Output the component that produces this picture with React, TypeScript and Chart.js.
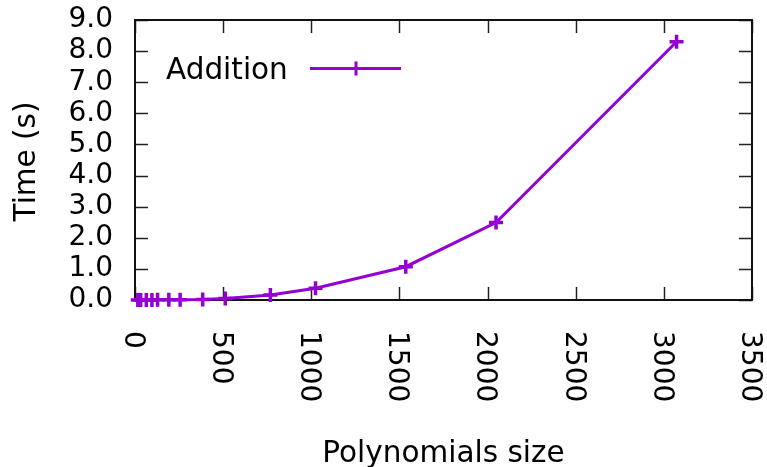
import React, { useEffect, useRef } from "react";
import { Chart, registerables } from "chart.js";

Chart.register(...registerables);

const sizes = [16, 32, 64, 96, 128, 192, 256, 384, 512, 768, 1024, 1536, 2048, 3072];
const additionTimes = [0.001, 0.002, 0.003, 0.004, 0.005, 0.008, 0.011, 0.02, 0.05, 0.16, 0.38, 1.07, 2.49, 8.3];
const xTicks = [0, 500, 1000, 1500, 2000, 2500, 3000, 3500];
const seriesLabel = "Addition";
const xTitle = "Polynomials size";
const yTitle = "Time (s)";

const FONT = "'DejaVu Sans', sans-serif";
const PURPLE = "#9400D3";

const framePlugin = {
  id: "gnuplotFrame",
  beforeDatasetsDraw(chart: any) {
    const { ctx, chartArea: a, scales } = chart;
    const xs = scales.x;
    const ys = scales.y;
    const tl = 13;
    ctx.save();
    ctx.strokeStyle = "#222";
    ctx.lineWidth = 1.5;
    ctx.beginPath();
    xTicks.forEach((v) => {
      const px = Math.round(xs.getPixelForValue(v)) + 0.5;
      ctx.moveTo(px, a.bottom);
      ctx.lineTo(px, a.bottom - tl);
      ctx.moveTo(px, a.top);
      ctx.lineTo(px, a.top + tl);
    });
    ys.ticks.forEach((t: any) => {
      const py = Math.round(ys.getPixelForValue(t.value)) + 0.5;
      ctx.moveTo(a.left, py);
      ctx.lineTo(a.left + tl, py);
      ctx.moveTo(a.right, py);
      ctx.lineTo(a.right - tl, py);
    });
    ctx.stroke();
    ctx.lineWidth = 2;
    ctx.strokeStyle = "#111";
    ctx.strokeRect(a.left, a.top, a.right - a.left, a.bottom - a.top);
    ctx.restore();
  },
  afterDraw(chart: any) {
    const { ctx, chartArea: a, scales } = chart;
    const xs = scales.x;
    ctx.save();
    ctx.fillStyle = "#000";
    const fs = 28;
    ctx.font = `${fs}px ${FONT}`;
    ctx.textAlign = "left";
    ctx.textBaseline = "alphabetic";
    xTicks.forEach((v) => {
      const px = xs.getPixelForValue(v);
      ctx.save();
      ctx.translate(px - 0.3645 * fs, a.bottom + 31);
      ctx.rotate(Math.PI / 2);
      ctx.fillText(String(v), 0, 0);
      ctx.restore();
    });
    ctx.font = `29.5px ${FONT}`;
    ctx.textAlign = "center";
    ctx.fillText(xTitle, (a.left + a.right) / 2, 462);
    ctx.save();
    ctx.translate(35, 161.5);
    ctx.rotate(-Math.PI / 2);
    ctx.fillText(yTitle, 0, 0);
    ctx.restore();
    ctx.textAlign = "left";
    ctx.fillText(seriesLabel, 166, 79);
    ctx.strokeStyle = PURPLE;
    ctx.lineWidth = 3;
    ctx.beginPath();
    ctx.moveTo(310, 68.5);
    ctx.lineTo(401, 68.5);
    ctx.moveTo(356, 61.5);
    ctx.lineTo(356, 75.5);
    ctx.stroke();
    ctx.restore();
  },
};

export default function App() {
  const ref = useRef<HTMLCanvasElement | null>(null);
  useEffect(() => {
    if (!ref.current) return;
    const chart = new Chart(ref.current, {
      type: "line",
      data: {
        datasets: [
          {
            label: seriesLabel,
            data: sizes.map((s, i) => ({ x: s, y: additionTimes[i] })),
            borderColor: PURPLE,
            backgroundColor: PURPLE,
            borderWidth: 3,
            pointStyle: "cross",
            pointRadius: 7,
            pointBorderWidth: 3.5,
            pointHoverRadius: 7,
            tension: 0,
            clip: false as any,
          },
        ],
      },
      options: {
        animation: false,
        responsive: true,
        maintainAspectRatio: false,
        layout: { padding: { top: 20, right: 15, left: 0, bottom: 0 } },
        plugins: { legend: { display: false }, tooltip: { enabled: false } },
        scales: {
          x: {
            type: "linear",
            min: 0,
            max: 3500,
            ticks: { display: false, stepSize: 500 },
            grid: { display: false, drawTicks: false },
            border: { display: false },
            afterFit(scale: any) {
              scale.height = 167;
              scale.paddingLeft = 0;
              scale.paddingRight = 0;
              scale.paddingTop = 0;
              scale.paddingBottom = 0;
            },
          },
          y: {
            type: "linear",
            min: 0,
            max: 9,
            ticks: {
              stepSize: 1,
              autoSkip: false,
              padding: 22,
              color: "#000",
              font: { family: FONT, size: 28 },
              callback: (v: any) => Number(v).toFixed(1),
            },
            grid: { display: false, drawTicks: false },
            border: { display: false },
            afterFit(scale: any) {
              scale.width = 135;
              scale.paddingTop = 0;
              scale.paddingBottom = 0;
              scale.paddingLeft = 0;
              scale.paddingRight = 0;
            },
          },
        },
      },
      plugins: [framePlugin],
    });
    return () => chart.destroy();
  }, []);
  return (
    <div style={{ position: "fixed", left: 0, top: 0, width: 767, height: 467, background: "#fff" }}>
      <canvas ref={ref} />
    </div>
  );
}
